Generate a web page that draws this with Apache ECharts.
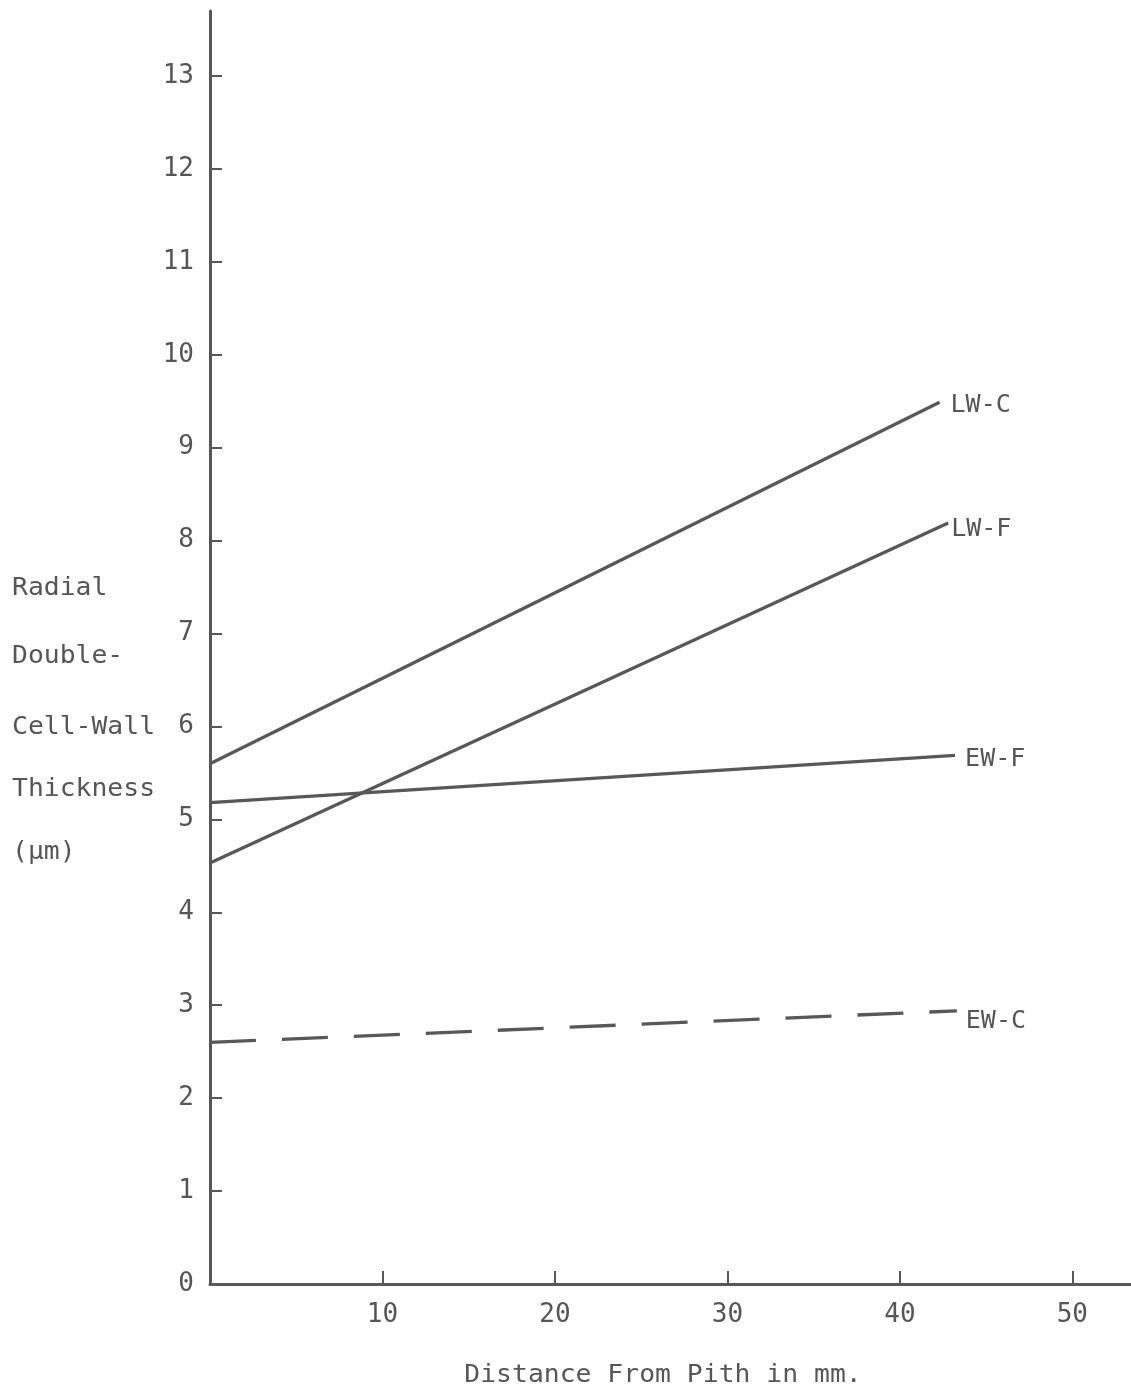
<!DOCTYPE html>
<html>
<head>
<meta charset="utf-8">
<style>
  html, body { margin: 0; padding: 0; background: #ffffff; }
  #chart { width: 1131px; height: 1399px; }
</style>
<script src="https://cdn.jsdelivr.net/npm/echarts@6/dist/echarts.min.js"></script>
</head>
<body>
<div id="chart"></div>
<script>
// Regression lines of radial double-cell-wall thickness against distance from pith
var seriesNames = ['LW-C', 'LW-F', 'EW-F', 'EW-C'];
var xStart = [0, 0, 0, 0];
var xEnd = [42.3, 42.8, 43.2, 43.3];
var yStart = [5.6, 4.53, 5.18, 2.6];
var yEnd = [9.49, 8.19, 5.69, 2.94];

var yTicks = [0, 1, 2, 3, 4, 5, 6, 7, 8, 9, 10, 11, 12, 13];
var xTicks = [10, 20, 30, 40, 50];

var ink = '#585858';
var textInk = '#565656';
var mono = '"DejaVu Sans Mono", "Liberation Mono", monospace';

// label placement beside each line end: [gap, vertical shift]
var endLabelPlacement = [[11, 3], [3, 7], [10, 4], [9, 11]];

var series = seriesNames.map(function (name, i) {
  return {
    name: name,
    type: 'line',
    data: [[xStart[i], yStart[i]], [xEnd[i], yEnd[i]]],
    symbol: 'none',
    silent: true,
    animation: false,
    lineStyle: {
      color: ink,
      width: 3.3,
      type: name === 'EW-C' ? [46, 26] : 'solid'
    },
    endLabel: {
      show: true,
      formatter: name,
      color: textInk,
      fontFamily: mono,
      fontSize: 25,
      distance: endLabelPlacement[i][0],
      offset: [0, endLabelPlacement[i][1]]
    }
  };
});

var chart = echarts.init(document.getElementById('chart'), null, { renderer: 'canvas' });

function sideText(label, x, y, align) {
  return {
    type: 'text', x: x, y: y, scaleX: 1.1,
    style: {
      text: label, fill: textInk, font: '24px ' + mono,
      textAlign: align, textVerticalAlign: 'middle'
    }
  };
}

chart.setOption({
  backgroundColor: '#ffffff',
  animation: false,
  grid: { left: 210, right: 0, top: 11, bottom: 115, containLabel: false },
  xAxis: {
    type: 'value',
    min: 0,
    max: 53.4,
    splitLine: { show: false },
    axisLine: { show: true, onZero: false, lineStyle: { color: ink, width: 3 } },
    axisTick: {
      show: true, inside: true, length: 13, customValues: xTicks,
      lineStyle: { color: ink, width: 2 }
    },
    axisLabel: {
      show: true, customValues: xTicks, margin: 18,
      color: textInk, fontFamily: mono, fontSize: 26
    }
  },
  yAxis: {
    type: 'value',
    min: 0,
    max: 13.7,
    splitLine: { show: false },
    axisLine: { show: true, onZero: false, lineStyle: { color: ink, width: 3 } },
    axisTick: {
      show: true, inside: true, length: 12, customValues: yTicks,
      lineStyle: { color: ink, width: 2 }
    },
    axisLabel: {
      show: true, customValues: yTicks, margin: 16,
      color: textInk, fontFamily: mono, fontSize: 26
    }
  },
  graphic: [
    sideText('Radial', 12, 589, 'left'),
    sideText('Double-', 12, 657, 'left'),
    sideText('Cell-Wall', 12, 728, 'left'),
    sideText('Thickness', 12, 790, 'left'),
    sideText('(\u00b5m)', 12, 853, 'left'),
    sideText('Distance From Pith in mm.', 663, 1376, 'center')
  ],
  series: series
});
</script>
</body>
</html>
